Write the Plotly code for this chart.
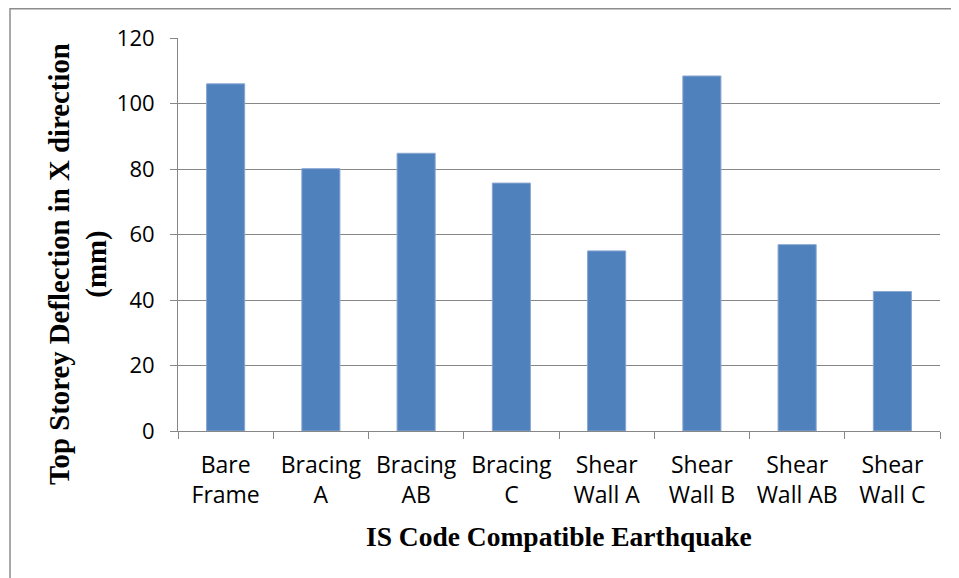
import plotly.graph_objects as go

categories = ["Bare<br>Frame", "Bracing<br>A", "Bracing<br>AB", "Bracing<br>C",
              "Shear<br>Wall A", "Shear<br>Wall B", "Shear<br>Wall AB", "Shear<br>Wall C"]
deflection = [106.0, 80.1, 84.8, 75.7, 55.0, 108.4, 56.9, 42.6]
y_ticks = [0, 20, 40, 60, 80, 100, 120]

x_title = "IS Code Compatible Earthquake"
y_title = "Top Storey Deflection in X direction<br>(mm)"

# the page body has an 8px margin; the figure is sized and placed to compensate
OFF = 8
W, H = 959 - OFF, 578 - OFF
L, R, T, B = 178 - OFF, 19, 38 - OFF, 147
pw, ph = W - L - R, H - T - B

def px(x):  # screen x -> paper
    return (x - OFF - L) / pw

def py(y):  # screen y -> paper
    return (H - B - (y - OFF)) / ph

grid = "#878787"

fig = go.Figure(go.Bar(
    x=categories, y=deflection, width=0.4,
    marker=dict(color="#4F81BD", line=dict(color="#8AA7D2", width=1)),
))

fig.update_layout(
    width=W, height=H,
    margin=dict(l=L, r=R, t=T, b=B, pad=0),
    paper_bgcolor="white", plot_bgcolor="white",
    showlegend=False,
    bargap=0.6,
    font=dict(family="Open Sans", color="#000000", size=22),
    xaxis=dict(
        type="category", tickson="boundaries", ticks="outside", ticklen=7,
        tickcolor=grid, tickwidth=1, showline=True, linecolor=grid, linewidth=1,
        showgrid=False, tickfont=dict(family="Open Sans", size=23, color="#000"),
        ticklabelstandoff=13,
    ),
    yaxis=dict(
        range=[0, 120], tickvals=y_ticks, ticks="outside", ticklen=7,
        tickcolor=grid, tickwidth=1, showline=True, linecolor=grid, linewidth=1,
        showgrid=True, gridcolor=grid, gridwidth=1, zeroline=False,
        tickfont=dict(family="Open Sans", size=22, color="#000"),
        ticklabelstandoff=11,
    ),
    annotations=[
        dict(text="<b>" + y_title.replace("<br>", "</b><br><b>") + "</b>",
             textangle=-90, xref="paper", yref="paper",
             x=px(78), y=py(264), xanchor="center", yanchor="middle",
             showarrow=False, align="center",
             font=dict(family="Liberation Serif", size=28.8, color="#000")),
        dict(text="<b>" + x_title + "</b>", xref="paper", yref="paper",
             x=0.5, y=py(536), xanchor="center", yanchor="middle",
             showarrow=False,
             font=dict(family="Liberation Serif", size=27.5, color="#000")),
    ],
    shapes=[
        dict(type="line", xref="paper", yref="paper", x0=px(10), x1=px(970),
             y0=py(8.75), y1=py(8.75), line=dict(color="#8C8C8C", width=1.5)),
        dict(type="line", xref="paper", yref="paper", x0=px(10), x1=px(10),
             y0=py(8), y1=py(590), line=dict(color="#8C8C8C", width=1.5)),
    ],
)

fig.write_html("out.html")
